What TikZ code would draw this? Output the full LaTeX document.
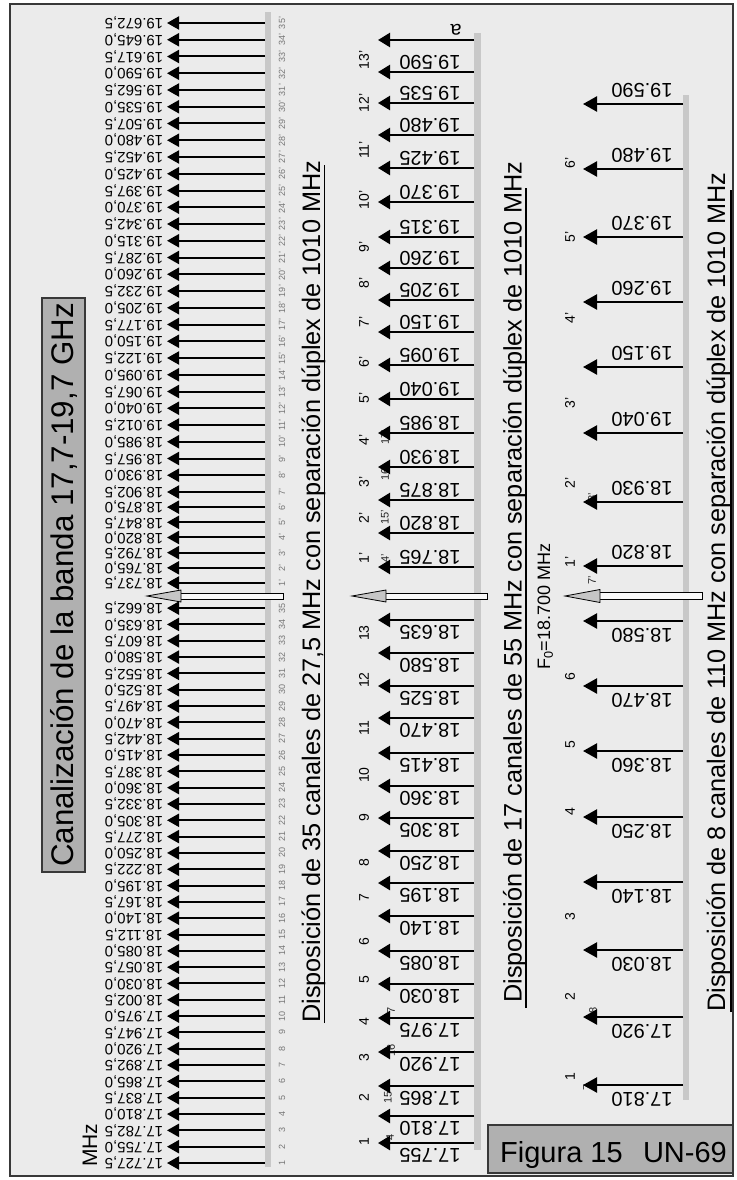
\documentclass[tikz,border=0pt]{standalone}
\usepackage{fontspec}
\setmainfont{Liberation Sans}
\usetikzlibrary{arrows.meta}
\definecolor{bgc}{HTML}{EBEBEB}
\definecolor{barc}{HTML}{C8C8C8}
\definecolor{boxc}{HTML}{B0B0B0}
\definecolor{numc}{HTML}{777777}
\definecolor{framec}{HTML}{383838}
\tikzset{
  arrL/.style={line width=2pt,-{Triangle[length=12pt,width=13pt]}},
  arrM/.style={line width=2.3pt,-{Triangle[length=12pt,width=14pt]}},
  arrR/.style={line width=2.3pt,-{Triangle[length=14pt,width=15pt]}},
  lblL/.style={font=\fontsize{15}{15}\selectfont,rotate=180,inner sep=0pt},
  lblM/.style={font=\fontsize{20}{20}\selectfont,rotate=180,inner sep=0pt},
  chL/.style={font=\fontsize{9}{9}\selectfont,text=numc,rotate=90,inner sep=0pt},
  chM/.style={font=\fontsize{14}{14}\selectfont,rotate=90,inner sep=0pt},
  artnum/.style={font=\fontsize{11}{11}\selectfont,rotate=90,inner sep=0pt,text=black!85},
  disp/.style={font=\fontsize{25.3}{25.3}\selectfont,rotate=90,anchor=base west,inner sep=0pt},
  ubar/.style={line width=1.3pt},
  gbar/.style={fill=barc,draw=none},
  hhead/.style={fill=gray!45,draw=black,line width=0.8pt,line join=miter},
  hshaft/.style={fill=gray!5,draw=black,line width=0.8pt},
  graybox/.style={fill=boxc,draw=framec,line width=1.5pt},
}
\begin{document}
\begin{tikzpicture}[x=1pt,y=-1pt]
\useasboundingbox (0,0) rectangle (736,1180);
\fill[white] (0,0) rectangle (736,1180);
\filldraw[fill=bgc,draw=framec,line width=2.5pt] (10,4) rectangle (733,1176);

% title
\node[graybox,rotate=90,minimum width=574pt,minimum height=43pt,inner sep=0pt,
      font=\fontsize{31.3}{31.3}\selectfont] (title) at (63.5,585)
      {Canalización de la banda 17,7-19,7 GHz};
\node[rotate=90,anchor=base west,font=\fontsize{21}{21}\selectfont,inner sep=0pt] (mhz) at (97,1167) {MHz};

% gray bars
\fill[gbar] (265,12) rectangle (271,1167);
\fill[gbar] (474,33) rectangle (481,1150);
\fill[gbar] (683,95) rectangle (689,1100);

% ---------- left column: 35 channels of 27,5 MHz ----------
\foreach \l [count=\k] in {{17.727,5},{17.755,0},{17.782,5},{17.810,0},{17.837,5},{17.865,0},{17.892,5},{17.920,0},{17.947,5},{17.975,0},{18.002,5},{18.030,0},{18.057,5},{18.085,0},{18.112,5},{18.140,0},{18.167,5},{18.195,0},{18.222,5},{18.250,0},{18.277,5},{18.305,0},{18.332,5},{18.360,0},{18.387,5},{18.415,0},{18.442,5},{18.470,0},{18.497,5},{18.525,0},{18.552,5},{18.580,0},{18.607,5},{18.635,0},{18.662,5}} {
  \pgfmathsetmacro\yy{1163-(\k-1)*16.32}
  \draw[arrL] (265,\yy) -- (167,\yy);
  \node[lblL] at (134,\yy) {\l};
  \node[chL] at (282,\yy) {\k};
}
\foreach \l [count=\k] in {{18.737,5},{18.765,0},{18.792,5},{18.820,0},{18.847,5},{18.875,0},{18.902,5},{18.930,0},{18.957,5},{18.985,0},{19.012,5},{19.040,0},{19.067,5},{19.095,0},{19.122,5},{19.150,0},{19.177,5},{19.205,0},{19.232,5},{19.260,0},{19.287,5},{19.315,0},{19.342,5},{19.370,0},{19.397,5},{19.425,0},{19.452,5},{19.480,0},{19.507,5},{19.535,0},{19.562,5},{19.590,0},{19.617,5},{19.645,0},{19.672,5}} {
  \pgfmathsetmacro\yy{\k<7 ? 583-(\k-1)*15.17 : 492-(\k-7)*16.75}
  \draw[arrL] (265,\yy) -- (167,\yy);
  \node[lblL] at (134,\yy) {\l};
  \node[chL] at (282,\yy) {\k'};
}

% ---------- partly hidden numbers under the arrow heads ----------
\foreach \t/\xx/\yy in {4'/385/558, 15'/385/517, 16'/385/473, 17'/385/437, 7/391/1010, 16/391/1050, 15/388/1097, 4/390/1137, 8'/592/497, 7'/592/580, 8/593/1010, 7/587/1087}
  \node[artnum] at (\xx,\yy) {\t};

% ---------- middle column: 17 channels of 55 MHz ----------
\foreach \l/\yy in {17.755/1143, 17.810/1116, 17.865/1086, 17.920/1052, 17.975/1018, 18.030/984, 18.085/951, 18.140/916, 18.195/883, 18.250/851, 18.305/818, 18.360/786, 18.415/753, 18.470/718, 18.525/686, 18.580/653, 18.635/620} {
  \draw[arrM] (474,\yy) -- (378,\yy);
  \node[lblM] at (430,\yy+12) {\l};
}
\foreach \l/\yy in {18.765/567, 18.820/533, 18.875/500, 18.930/467, 18.985/433, 19.040/399, 19.095/365, 19.150/332, 19.205/300, 19.260/268, 19.315/237, 19.370/202, 19.425/168, 19.480/135, 19.535/103, 19.590/72} {
  \draw[arrM] (474,\yy) -- (378,\yy);
  \node[lblM] at (430,\yy-10) {\l};
}
\draw[arrM] (474,40) -- (378,40);
\node[lblM] (alab) at (456,30) {a};
\foreach \c/\yy in {1/1142, 2/1098, 3/1058, 4/1022, 5/980, 6/942, 7/898, 8/863, 9/818, 10/775, 11/728, 12/680, 13/633, 1'/558, 2'/518, 3'/482, 4'/440, 5'/398, 6'/362, 7'/322, 8'/283, 9'/247, 10'/200, 11'/150, 12'/103, 13'/60}
  \node[chM] at (364,\yy) {\c};

% ---------- right column: 8 channels of 110 MHz ----------
\foreach \l/\yy in {17.810/1085, 17.920/1017, 18.030/950, 18.140/882, 18.250/817, 18.360/751, 18.470/686, 18.580/621} {
  \draw[arrR] (683,\yy) -- (583,\yy);
  \node[lblM] at (642,\yy+14) {\l};
}
\foreach \l/\yy in {18.820/566, 18.930/502, 19.040/433, 19.150/367, 19.260/302, 19.370/237, 19.480/169, 19.590/104} {
  \draw[arrR] (683,\yy) -- (583,\yy);
  \node[lblM] at (642,\yy-14) {\l};
}
\foreach \c/\yy in {1/1077, 2/997, 3/917, 4/812, 5/745, 6/677, 1'/562, 2'/483, 3'/403, 4'/318, 5'/237, 6'/163}
  \node[chM] at (570,\yy) {\c};

% ---------- hollow centre arrows ----------
\filldraw[hshaft] (180,593) rectangle (283,599);
\filldraw[hhead] (147,596) -- (181,590) -- (181,602) -- cycle;
\filldraw[hshaft] (385,593) rectangle (487,599);
\filldraw[hhead] (352,596) -- (386,590) -- (386,602) -- cycle;
\filldraw[hshaft] (599,592.5) rectangle (702,599.5);
\filldraw[hhead] (565,596) -- (600,589.5) -- (600,602.5) -- cycle;
\node[rotate=90,anchor=base west,font=\fontsize{18}{18}\selectfont,inner sep=0pt] (f0) at (550,670) {F\textsubscript{0}=18.700 MHz};

% ---------- captions ----------
\node[disp] (d35) at (320,1023) {Disposición de 35 canales de 27,5 MHz con separación dúplex de 1010 MHz};
\draw[ubar] (324.5,1023) -- (324.5,165);
\node[disp] (d17) at (521.5,1003) {Disposición de 17 canales de 55 MHz con separación dúplex de 1010 MHz};
\draw[ubar] (526,1008) -- (526,188);
\node[disp] (d8) at (725,1012) {Disposición de 8 canales de 110 MHz con separación dúplex de 1010 MHz};
\draw[ubar] (731,1012) -- (731,190);

% ---------- figure box ----------
\draw[graybox] (488,1125) rectangle (733,1173);
\node[anchor=base west,font=\fontsize{29}{29}\selectfont,inner sep=0pt] (fig) at (500,1162) {Figura 15};
\node[anchor=base east,font=\fontsize{29}{29}\selectfont,inner sep=0pt] (un) at (727,1162) {UN-69};
\end{tikzpicture}
\end{document}
